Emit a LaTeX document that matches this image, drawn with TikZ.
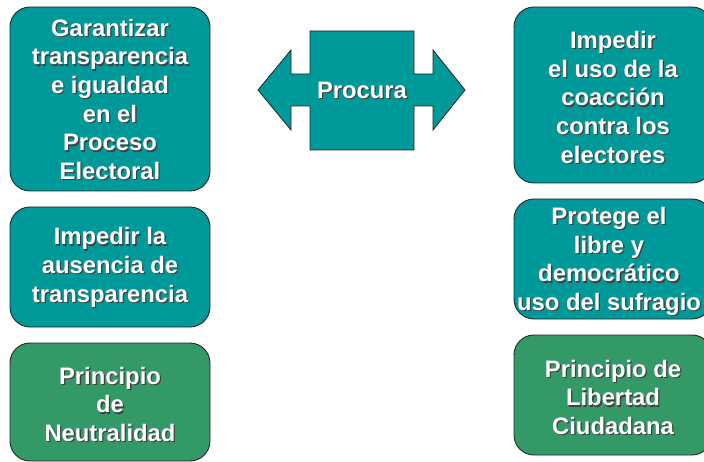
\documentclass[tikz,border=0pt]{standalone}
\usepackage{fontspec}
\setmainfont{Liberation Sans}
\definecolor{tealbox}{HTML}{009999}
\definecolor{greenbox}{HTML}{339966}
\newcommand\sh[1]{\leavevmode\rlap{\kern1.3pt\raisebox{-1.3pt}{\color{black!75}#1}}#1}
\tikzset{
  boxbase/.style={rounded corners=20pt, draw=black!85, line width=0.9pt},
  tealfill/.style={boxbase, fill=tealbox},
  greenfill/.style={boxbase, fill=greenbox},
  lbl/.style={text=white, align=center, font=\fontsize{23.8}{28.7}\selectfont\bfseries, inner sep=0pt}
}
\begin{document}
\begin{tikzpicture}[x=1pt,y=-1pt]
\useasboundingbox (0,0) rectangle (704,462);
\clip (0,0) rectangle (704,462);
% left boxes
\draw[tealfill] (10,7) rectangle (210,191);
\draw[tealfill] (10,207) rectangle (210,327);
\draw[greenfill] (10,343) rectangle (210,461);
% right boxes
\draw[tealfill] (514,7) rectangle (712,183);
\draw[tealfill] (514,199) rectangle (712,319);
\draw[greenfill] (514,335) rectangle (712,455);
% double arrow
\draw[fill=tealbox, draw=black!85, line width=0.8pt]
  (258,90) -- (291,50) -- (291,74) -- (310,74) -- (310,31) -- (414,31) -- (414,74)
  -- (433,74) -- (433,50) -- (465,90) -- (433,130) -- (433,106) -- (414,106)
  -- (414,150) -- (310,150) -- (310,106) -- (291,106) -- (291,130) -- cycle;
\node[lbl] (procura) at (362,91) {\sh{Procura}};
% texts
\node[lbl] (garantizar) at (110,100) {\sh{Garantizar}\\\sh{transparencia}\\\sh{e igualdad}\\\sh{en el}\\\sh{Proceso}\\\sh{Electoral}};
\node[lbl] (ausencia) at (110,268) {\sh{Impedir la}\\\sh{ausencia de}\\\sh{transparencia}};
\node[lbl] (neutralidad) at (110,405) {\sh{Principio}\\\sh{de}\\\sh{Neutralidad}};
\node[lbl] (coaccion) at (613,98) {\sh{Impedir}\\\sh{el uso de la}\\\sh{coacción}\\\sh{contra los}\\\sh{electores}};
\node[lbl] (sufragio) at (609,262) {\sh{Protege el}\\\sh{libre y}\\\sh{democrático}\\\sh{uso del sufragio}};
\node[lbl] (libertad) at (613,398) {\sh{Principio de}\\\sh{Libertad}\\\sh{Ciudadana}};
\end{tikzpicture}
\end{document}
